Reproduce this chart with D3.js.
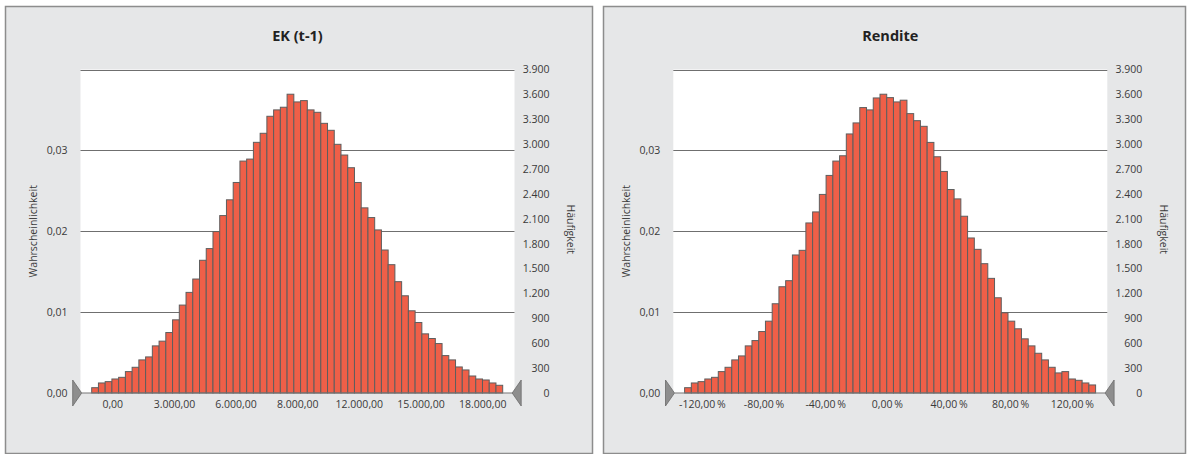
<!DOCTYPE html>
<html>
<head>
<meta charset="utf-8">
<script src="https://cdn.jsdelivr.net/npm/d3@7"></script>
<style>
  body { margin: 0; background: #fff; }
  svg { display: block; }
  text { font-family: "Open Sans", sans-serif; fill: #3a3a3a; }
</style>
</head>
<body>
<svg id="chart"></svg>
<script>
// Häufigkeiten je Klasse (61 Klassen)
const ekCounts = [64, 121, 137, 169, 189, 258, 310, 399, 435, 568, 625, 729, 882, 1060, 1213, 1374,
  1600, 1741, 1946, 2139, 2329, 2538, 2796, 2820, 3022, 3131, 3336, 3413, 3445, 3602, 3509, 3525,
  3413, 3384, 3251, 3167, 2998, 2869, 2716, 2538, 2232, 2115, 1966, 1724, 1547, 1342, 1172, 991,
  850, 713, 657, 596, 451, 399, 314, 278, 205, 169, 157, 121, 93];
const renditeCounts = [64, 121, 137, 169, 189, 258, 310, 399, 447, 568, 632, 741, 866, 1076, 1281, 1354,
  1664, 1720, 2050, 2183, 2394, 2623, 2796, 2860, 3123, 3256, 3441, 3413, 3557, 3602, 3561, 3509,
  3530, 3368, 3283, 3215, 3021, 2848, 2671, 2453, 2340, 2131, 1869, 1732, 1559, 1382, 1148, 967,
  866, 774, 653, 568, 479, 399, 310, 242, 258, 169, 153, 121, 97];

// Klassengrenzen (Wertebereich der Histogramme)
const ekRange = [-1000, 19000];
const renditeRange = [-131.2, 135.4];

const ekTicks = [0, 3000, 6000, 9000, 12000, 15000, 18000];
const ekTickLabels = ["0,00", "3.000,00", "6.000,00", "8.000,00", "12.000,00", "15.000,00", "18.000,00"];
const renditeTicks = [-120, -80, -40, 0, 40, 80, 120];
const renditeTickLabels = ["-120,00\u2009%", "-80,00\u2009%", "-40,00\u2009%", "0,00\u2009%", "40,00\u2009%", "80,00\u2009%", "120,00\u2009%"];

const probTicks = [0, 0.01, 0.02, 0.03];
const probMax = 0.04;
const countTicks = [0, 300, 600, 900, 1200, 1500, 1800, 2100, 2400, 2700, 3000, 3300, 3600, 3900];
const countMax = 3900;

const width = 1187, height = 454;
const de = d3.formatLocale({decimal: ",", thousands: ".", grouping: [3], currency: ["", " €"]});
const fmtProb = de.format(".2f");
const fmtCount = de.format(",d");

const svg = d3.select("#chart").attr("width", width).attr("height", height);

const panels = [
  {title: "EK (t-1)", counts: ekCounts, range: ekRange, ticks: ekTicks, labels: ekTickLabels,
   box: [5.5, 6.5, 587, 447], plotLeft: 80.5, barInset: 11.2},
  {title: "Rendite", counts: renditeCounts, range: renditeRange, ticks: renditeTicks, labels: renditeTickLabels,
   box: [603.5, 6.5, 582, 447], plotLeft: 673.3, barInset: 11.3}
];

const plotTop = 69.5, plotBottom = 393, plotW = 434, barSpan = 411;

panels.forEach(p => {
  const g = svg.append("g");
  const plotRight = p.plotLeft + plotW;

  g.append("rect")
    .attr("x", p.box[0]).attr("y", p.box[1])
    .attr("width", p.box[2]).attr("height", p.box[3])
    .attr("fill", "#e6e7e8").attr("stroke", "#8d8d8d").attr("stroke-width", 1.5);

  g.append("text")
    .attr("x", p.plotLeft + plotW / 2).attr("y", 41)
    .attr("text-anchor", "middle")
    .attr("font-size", 14.5).attr("font-weight", 700)
    .style("fill", "#222")
    .text(p.title);

  g.append("rect")
    .attr("x", p.plotLeft).attr("y", plotTop)
    .attr("width", plotW).attr("height", plotBottom - plotTop)
    .attr("fill", "#fff");

  const yP = d3.scaleLinear().domain([0, probMax]).range([plotBottom, plotTop]);
  const yC = d3.scaleLinear().domain([0, countMax]).range([plotBottom, plotTop]);
  const barLeft = p.plotLeft + p.barInset;
  const x = d3.scaleLinear().domain(p.range).range([barLeft, barLeft + barSpan]);
  const binW = (p.range[1] - p.range[0]) / p.counts.length;

  // Gitterlinien
  g.append("g").selectAll("line")
    .data(probTicks.slice(1).concat([probMax]))
    .join("line")
    .attr("x1", p.plotLeft).attr("x2", plotRight)
    .attr("y1", d => Math.round(yP(d)) + 0.5).attr("y2", d => Math.round(yP(d)) + 0.5)
    .attr("stroke", "#6f6f6f").attr("stroke-width", 1);

  // Balken
  g.append("g")
    .selectAll("rect")
    .data(p.counts)
    .join("rect")
    .attr("x", (d, i) => x(p.range[0] + i * binW))
    .attr("y", d => yC(d))
    .attr("width", x(p.range[0] + binW) - x(p.range[0]))
    .attr("height", d => plotBottom - yC(d))
    .attr("fill", "#ef5f48")
    .attr("stroke", "#5e5e5e")
    .attr("stroke-width", 1);

  // Grundlinie und Markierungen
  const tipL = p.plotLeft + 1.2, tipR = barLeft + barSpan + 9.5;
  g.append("line")
    .attr("x1", tipL).attr("x2", tipR)
    .attr("y1", plotBottom).attr("y2", plotBottom)
    .attr("stroke", "#777").attr("stroke-width", 1.2);
  g.append("path")
    .attr("d", `M${tipL - 9},${plotBottom - 13}L${tipL},${plotBottom}L${tipL - 9},${plotBottom + 13}Z`)
    .attr("fill", "#8e8e8e").attr("stroke", "#6a6a6a").attr("stroke-width", 0.8);
  g.append("path")
    .attr("d", `M${tipR + 9},${plotBottom - 13}L${tipR},${plotBottom}L${tipR + 9},${plotBottom + 13}Z`)
    .attr("fill", "#8e8e8e").attr("stroke", "#6a6a6a").attr("stroke-width", 0.8);

  // linke Achse (Wahrscheinlichkeit)
  g.append("g")
    .attr("transform", `translate(${p.plotLeft - 13},0)`)
    .call(d3.axisLeft(yP).tickValues(probTicks).tickFormat(fmtProb).tickSize(0).tickPadding(0))
    .call(a => a.select(".domain").remove())
    .call(a => a.selectAll("text").attr("font-size", 10.5).attr("font-family", null).attr("fill", null));

  // rechte Achse (Häufigkeit)
  g.append("g")
    .attr("transform", `translate(${plotRight + 35},0)`)
    .call(d3.axisRight(yC).tickValues(countTicks).tickFormat(fmtCount).tickSize(0).tickPadding(0))
    .call(a => a.select(".domain").remove())
    .call(a => a.selectAll("text").attr("text-anchor", "end").attr("font-size", 10.5).attr("font-family", null).attr("fill", null));

  // x-Achse
  g.append("g")
    .attr("transform", `translate(0,${plotBottom + 8})`)
    .call(d3.axisBottom(x).tickValues(p.ticks).tickFormat((d, i) => p.labels[i]).tickSize(0).tickPadding(0))
    .call(a => a.select(".domain").remove())
    .call(a => a.selectAll("text").attr("font-size", 10.5).attr("font-family", null).attr("fill", null));

  g.append("text")
    .attr("transform", `translate(${p.plotLeft - 47},${(plotTop + plotBottom) / 2}) rotate(-90)`)
    .attr("text-anchor", "middle").attr("dy", "0.35em")
    .attr("font-size", 10.5)
    .text("Wahrscheinlichkeit");

  g.append("text")
    .attr("transform", `translate(${plotRight + 56},${(plotTop + plotBottom) / 2 - 2}) rotate(90)`)
    .attr("text-anchor", "middle").attr("dy", "0.35em")
    .attr("font-size", 10.5)
    .text("Häufigkeit");
});
</script>
</body>
</html>
